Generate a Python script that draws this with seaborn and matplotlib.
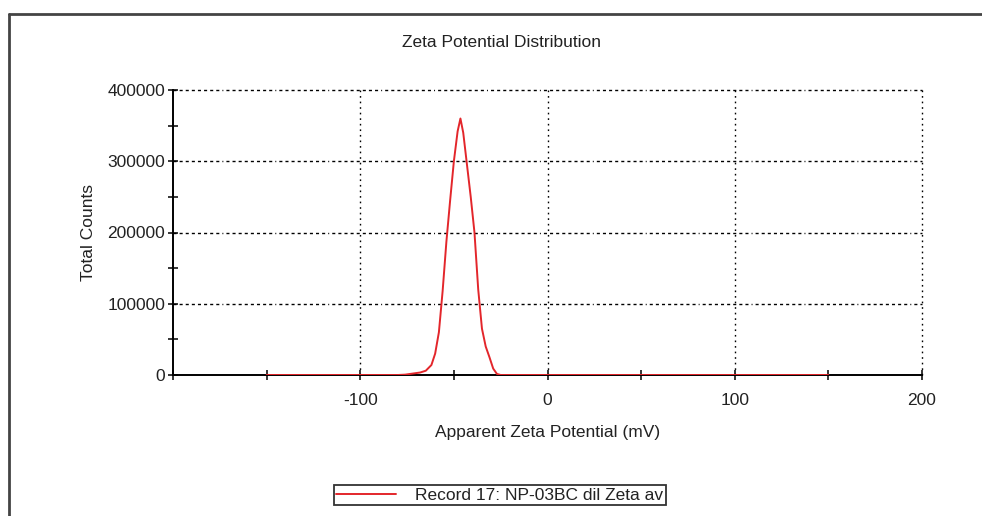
import matplotlib
matplotlib.use("Agg")
import matplotlib.pyplot as plt
from matplotlib.lines import Line2D
from matplotlib.ticker import MultipleLocator
import seaborn as sns
import pandas as pd

# ---- data ----
zeta_mv = [-150, -80, -76, -72, -68, -65, -62, -60, -58, -56, -54, -52, -50, -48,
           -46.5, -45, -43, -41, -39, -37, -35, -33, -31, -29, -27, -25, 150]
total_counts = [0, 0, 500, 2000, 3500, 6000, 14000, 30000, 60000, 118000, 187000,
                245000, 300000, 342000, 360000, 340000, 295000, 250000, 200000,
                120000, 65000, 40000, 25000, 9000, 1500, 0, 0]
series_label = "Record 17: NP-03BC dil Zeta av"
title_text = "Zeta Potential Distribution"
x_label = "Apparent Zeta Potential (mV)"
y_label = "Total Counts"
x_ticks = [-100, 0, 100, 200]
y_ticks = [0, 100000, 200000, 300000, 400000]

df = pd.DataFrame({"zeta": zeta_mv, "counts": total_counts})

sns.set_style("white")
plt.rcParams["font.family"] = ["Liberation Sans", "DejaVu Sans"]
plt.rcParams["axes.unicode_minus"] = False

FS = 12.5
TXT = "#222222"

fig = plt.figure(figsize=(9.82, 5.16), dpi=100)
ax = fig.add_axes([173 / 982, 1 - 375 / 516, (922 - 173) / 982, (375 - 90) / 516])

red = "#e3262b"
sns.lineplot(data=df, x="zeta", y="counts", color=red, linewidth=1.4,
             ax=ax, label=series_label, zorder=5, legend=False)

ax.set_xlim(-200, 200)
ax.set_ylim(0, 400000)

# grid
hpat = (0, (2.2, 2.2) * 8 + (0.7, 2.2))
for yv in y_ticks[1:]:
    ax.axhline(yv, color="black", linewidth=1.0, linestyle=hpat, zorder=1, clip_on=False)
for xv in x_ticks:
    ax.axvline(xv, color="black", linewidth=1.0, linestyle=(0, (1.2, 2.8)), zorder=1,
               clip_on=False)

for s in ["top", "right"]:
    ax.spines[s].set_visible(False)
for s in ["left", "bottom"]:
    ax.spines[s].set_color("black")
    ax.spines[s].set_linewidth(1.4)

ax.set_xticks(x_ticks)
ax.set_yticks(y_ticks)
ax.set_xticklabels([str(v) for v in x_ticks])
ax.set_yticklabels([str(v) for v in y_ticks])
ax.xaxis.set_minor_locator(MultipleLocator(50))
ax.yaxis.set_minor_locator(MultipleLocator(50000))
ax.tick_params(which="both", direction="inout", length=7, width=1.1, color="black",
               labelsize=FS, labelcolor=TXT)
ax.tick_params(axis="x", which="major", pad=9.5)
ax.tick_params(axis="y", which="major", pad=2)
ax.tick_params(which="both", bottom=True, left=True)

ax.set_xlabel(x_label, fontsize=FS, color=TXT, labelpad=12)
ax.set_ylabel(y_label, fontsize=FS, color=TXT, labelpad=8)

fig.text(502 / 982, 1 - 47 / 516, title_text, ha="center", va="baseline",
         fontsize=FS, color=TXT)

handle = Line2D([], [], color=red, linewidth=1.4)
leg = fig.legend([handle], [series_label], loc="center",
                 bbox_to_anchor=(500 / 982, 1 - 495 / 516),
                 frameon=True, fancybox=False, fontsize=FS, handlelength=3.45,
                 borderpad=0.12, handletextpad=1.1, borderaxespad=0)
leg.get_frame().set_edgecolor("black")
leg.get_frame().set_linewidth(1.3)
for t in leg.get_texts():
    t.set_color(TXT)

# page frame (left and top edges)
fig.add_artist(Line2D([9 / 982, 9 / 982], [0, 1 - 14 / 516], transform=fig.transFigure,
                      color="#444444", linewidth=2.0))
fig.add_artist(Line2D([9 / 982, 1], [1 - 14 / 516, 1 - 14 / 516], transform=fig.transFigure,
                      color="#444444", linewidth=2.0))

fig.savefig("out.png", dpi=100, facecolor="white")
